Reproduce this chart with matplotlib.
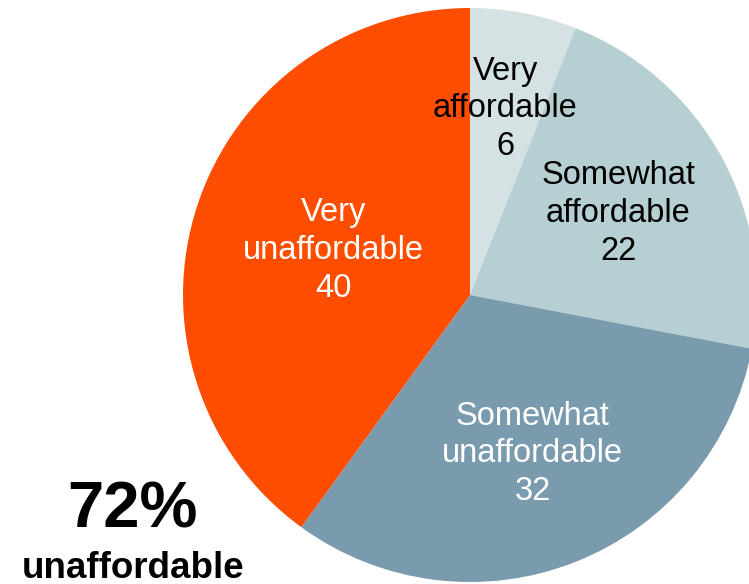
import matplotlib
matplotlib.use("Agg")
import matplotlib.pyplot as plt
import numpy as np

plt.rcParams['font.family'] = ['Liberation Sans', 'DejaVu Sans']

categories = ["Very\naffordable", "Somewhat\naffordable", "Somewhat\nunaffordable", "Very\nunaffordable"]
values = [6, 22, 32, 40]
colors = ["#d4e2e4", "#b5cfd2", "#7a9aad", "#ff4d00"]
text_colors = ["black", "black", "white", "white"]
label_dist = [0.66, 0.59, 0.595, 0.50]
summary_value = "72%"
summary_label = "unaffordable"

W, H = 749, 584
fig = plt.figure(figsize=(W / 100, H / 100), dpi=100)
ax = fig.add_axes([0, 0, 1, 1])

cx, cy, R = 470, H - 295, 287
wedges, _ = ax.pie(values, colors=colors, startangle=90, counterclock=False,
                   center=(cx, cy), radius=R, frame=True,
                   wedgeprops=dict(linewidth=0))
ax.set_xlim(0, W)
ax.set_ylim(0, H)
ax.set_aspect('equal')
ax.axis('off')

for w, cat, v, tc, d in zip(wedges, categories, values, text_colors, label_dist):
    mid = np.deg2rad((w.theta1 + w.theta2) / 2)
    x = cx + d * R * np.cos(mid)
    y = cy + d * R * np.sin(mid)
    ax.text(x, y, f"{cat}\n{v}", ha='center', va='center', color=tc,
            fontsize=23.5, linespacing=1.28)

ax.text(133, H - 510, summary_value, ha='center', va='center',
        fontsize=47, fontweight='bold', color='black')
ax.text(133, H - 568, summary_label, ha='center', va='center',
        fontsize=26.5, fontweight='bold', color='black')

fig.savefig("out.png", dpi=100)
